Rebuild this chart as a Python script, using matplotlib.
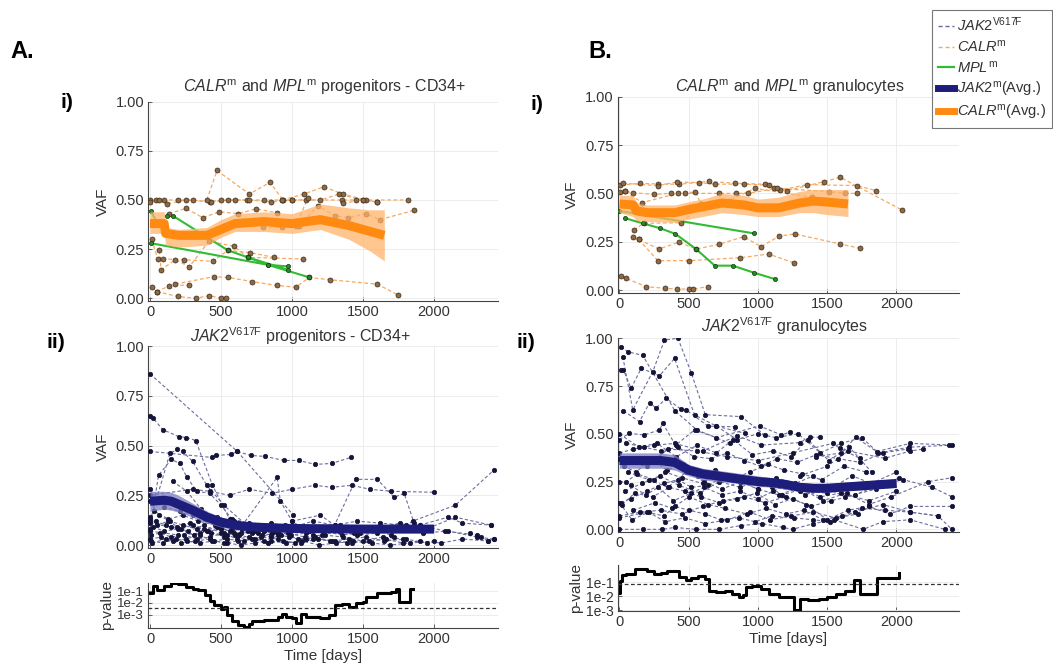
import numpy as np
import matplotlib
matplotlib.use("Agg")
import matplotlib.pyplot as plt
from matplotlib.lines import Line2D

plt.rcParams['font.family'] = ['Liberation Sans', 'DejaVu Sans']
plt.rcParams['mathtext.fontset'] = 'custom'
plt.rcParams['mathtext.rm'] = 'Liberation Sans'
plt.rcParams['mathtext.it'] = 'Liberation Sans:italic'

# ---- CALR / MPL, progenitors (A i): (days, vaf) per patient
calr_prog = [
    ([0, 40, 100, 200, 300, 420, 500, 600, 680, 800, 930, 1000, 1100, 1350, 1450, 1820],
     [0.50, 0.50, 0.50, 0.50, 0.50, 0.49, 0.50, 0.50, 0.50, 0.50, 0.50, 0.50, 0.50, 0.50, 0.50, 0.50]),
    ([0, 60, 120, 250, 430, 550, 700, 850, 1000, 1200, 1330, 1500, 1600],
     [0.49, 0.50, 0.48, 0.50, 0.49, 0.50, 0.50, 0.49, 0.50, 0.50, 0.53, 0.50, 0.49]),
    ([400, 472, 700, 846, 935], [0.50, 0.65, 0.53, 0.59, 0.50]),
    ([932, 1083, 1224, 1358, 1520], [0.50, 0.53, 0.567, 0.53, 0.50]),
    ([1050, 1182, 1300, 1396, 1523, 1617, 1859], [0.37, 0.47, 0.42, 0.41, 0.43, 0.40, 0.447]),
    ([132, 254, 371, 489, 623, 747, 893], [0.43, 0.457, 0.41, 0.44, 0.43, 0.455, 0.435]),
    ([12, 54, 94, 242, 442, 548, 707, 872], [0.30, 0.20, 0.20, 0.196, 0.188, 0.244, 0.232, 0.208]),
    ([66, 78, 179, 277, 414, 590, 689, 1076], [0.244, 0.145, 0.196, 0.16, 0.29, 0.265, 0.208, 0.20]),
    ([179, 449, 548, 719, 893, 1025, 1123, 1269, 1600, 1746],
     [0.072, 0.11, 0.106, 0.085, 0.065, 0.056, 0.106, 0.094, 0.072, 0.017]),
    ([12, 47, 136, 277], [0.055, 0.034, 0.063, 0.068]),
    ([47, 195, 324, 418, 500, 536], [0.034, 0.009, 0.0, 0.014, 0.0, 0.0]),
    ([794, 931, 1029, 1111], [0.36, 0.36, 0.37, 0.51]),
    ([1358, 1500, 1600], [0.483, 0.50, 0.49]),
]
mpl_prog = [
    ([7, 45], [0.444, 0.39]),
    ([118, 160, 548, 689, 971], [0.42, 0.42, 0.244, 0.208, 0.145]),
    ([7, 830, 971], [0.28, 0.17, 0.162]),
    ([689, 830, 1123], [0.208, 0.17, 0.106]),
]
calr_prog_avg_t = [0, 100, 110, 200, 400, 500, 600, 800, 1000, 1200, 1400, 1550, 1650]
calr_prog_avg = [0.38, 0.38, 0.33, 0.32, 0.32, 0.35, 0.38, 0.39, 0.38, 0.40, 0.37, 0.34, 0.32]
calr_prog_lo = [0.33, 0.33, 0.27, 0.26, 0.27, 0.31, 0.34, 0.34, 0.33, 0.35, 0.30, 0.24, 0.19]
calr_prog_hi = [0.44, 0.44, 0.36, 0.35, 0.36, 0.40, 0.43, 0.44, 0.43, 0.48, 0.46, 0.45, 0.45]

# ---- CALR / MPL, granulocytes (B i)
calr_gran = [
    ([7, 151, 279, 428, 644, 837, 1053, 1113, 1209, 1474, 1594, 2039],
     [0.543, 0.552, 0.548, 0.547, 0.562, 0.552, 0.547, 0.529, 0.514, 0.56, 0.583, 0.414]),
    ([24, 279, 416, 577, 692, 897, 1077, 1161, 1353, 1714, 1853],
     [0.552, 0.54, 0.559, 0.555, 0.548, 0.547, 0.543, 0.517, 0.545, 0.54, 0.514]),
    ([7, 43, 96, 248, 375, 471, 721, 841, 928, 1137, 1514, 1630, 1714],
     [0.509, 0.51, 0.503, 0.495, 0.50, 0.50, 0.50, 0.50, 0.50, 0.526, 0.509, 0.50, 0.50]),
    ([43, 163, 423, 548, 591, 789, 976, 1390], [0.51, 0.452, 0.50, 0.507, 0.443, 0.462, 0.526, 0.479]),
    ([103, 175, 447, 591], [0.31, 0.345, 0.348, 0.443]),
    ([99, 139, 284, 428, 555, 716, 897, 1022, 1154, 1265, 1594, 1738],
     [0.272, 0.262, 0.212, 0.247, 0.212, 0.236, 0.276, 0.224, 0.279, 0.29, 0.238, 0.216]),
    ([139, 276, 505, 873, 1077, 1257], [0.262, 0.152, 0.152, 0.167, 0.186, 0.141]),
    ([14, 48, 195, 327, 416, 500, 531, 639], [0.074, 0.06, 0.017, 0.009, 0.005, 0.005, 0.005, 0.017]),
]
mpl_gran = [
    ([0, 969], [0.409, 0.293]),
    ([43, 168, 296, 404, 553, 688, 817, 969, 1120],
     [0.371, 0.345, 0.319, 0.29, 0.212, 0.126, 0.126, 0.09, 0.057]),
]
calr_gran_avg_t = [0, 100, 120, 200, 400, 520, 600, 740, 900, 1000, 1150, 1300, 1400, 1500, 1650]
calr_gran_avg = [0.445, 0.44, 0.41, 0.40, 0.40, 0.42, 0.43, 0.45, 0.44, 0.425, 0.425, 0.45, 0.46, 0.455, 0.445]
calr_gran_lo = [0.40, 0.38, 0.36, 0.355, 0.35, 0.37, 0.38, 0.40, 0.39, 0.38, 0.38, 0.40, 0.40, 0.39, 0.38]
calr_gran_hi = [0.49, 0.49, 0.45, 0.44, 0.44, 0.46, 0.47, 0.50, 0.49, 0.47, 0.48, 0.51, 0.52, 0.52, 0.52]

# ---- JAK2 V617F, progenitors (A ii)
jak2_prog = [
    ([0, 615, 1010], [0.86, 0.47, 0.15]),
    ([0, 19, 89, 201, 257, 322, 440, 560], [0.65, 0.64, 0.58, 0.545, 0.54, 0.525, 0.30, 0.13]),
    ([0, 439, 467, 568, 615, 708, 813, 942, 1047, 1164, 1280, 1414],
     [0.47, 0.44, 0.45, 0.455, 0.47, 0.45, 0.445, 0.425, 0.425, 0.405, 0.41, 0.44]),
    ([0, 140, 190, 230, 300, 400, 520, 680, 900], [0.12, 0.46, 0.48, 0.47, 0.42, 0.30, 0.20, 0.10, 0.05]),
    ([0, 60, 150, 210, 260, 330, 420, 500, 610, 720, 850],
     [0.08, 0.35, 0.43, 0.41, 0.34, 0.27, 0.26, 0.20, 0.10, 0.06, 0.04]),
    ([0, 300, 420, 560, 700, 860, 1000, 1160, 1280, 1420, 1550, 1700, 2000],
     [0.25, 0.28, 0.27, 0.25, 0.28, 0.26, 0.28, 0.30, 0.29, 0.30, 0.28, 0.27, 0.265]),
    ([1000, 1200, 1300, 1450, 1600, 1720, 1790, 1860], [0.12, 0.15, 0.10, 0.33, 0.33, 0.24, 0.26, 0.11]),
    ([600, 895, 918, 1000, 1150], [0.05, 0.34, 0.22, 0.12, 0.05]),
    ([1700, 1850, 2150, 2420], [0.05, 0.12, 0.20, 0.375]),
    ([1900, 2100, 2200, 2400], [0.10, 0.14, 0.11, 0.10]),
    ([0, 40, 110, 190, 280, 380, 470, 560, 650, 760, 880, 990, 1100, 1220, 1350, 1480, 1600, 1720],
     [0.13, 0.12, 0.10, 0.09, 0.11, 0.08, 0.09, 0.07, 0.08, 0.06, 0.07, 0.05, 0.06, 0.07, 0.05, 0.06, 0.08, 0.04]),
    ([5, 70, 150, 240, 330, 420, 520, 610, 700, 800, 920, 1040, 1160, 1280, 1400, 1520, 1650, 1800, 1950],
     [0.05, 0.06, 0.04, 0.05, 0.03, 0.04, 0.06, 0.03, 0.04, 0.02, 0.05, 0.03, 0.04, 0.02, 0.03, 0.04, 0.02, 0.03, 0.01]),
    ([10, 90, 180, 260, 350, 450, 540, 640, 740, 850, 960, 1070, 1190, 1310, 1430, 1560, 1690, 1830, 2000],
     [0.02, 0.01, 0.03, 0.02, 0.01, 0.02, 0.01, 0.0, 0.01, 0.02, 0.01, 0.02, 0.0, 0.01, 0.02, 0.01, 0.0, 0.01, 0.02]),
    ([0, 50, 130, 220, 300, 400, 500, 590, 690, 790, 900],
     [0.14, 0.10, 0.12, 0.08, 0.10, 0.07, 0.09, 0.06, 0.07, 0.05, 0.06]),
    ([20, 100, 200, 310, 410, 520, 630, 740, 860, 980, 1100, 1230, 1360, 1500, 1640, 1780],
     [0.09, 0.07, 0.08, 0.05, 0.07, 0.04, 0.05, 0.03, 0.06, 0.04, 0.03, 0.05, 0.04, 0.02, 0.04, 0.03]),
    ([0, 80, 160, 250, 350, 440, 540, 660, 780, 900, 1020, 1150, 1270, 1390],
     [0.03, 0.04, 0.02, 0.03, 0.05, 0.02, 0.03, 0.02, 0.04, 0.03, 0.01, 0.03, 0.02, 0.01]),
    ([30, 130, 230, 340, 460, 580, 700, 820, 950, 1080, 1210, 1340, 1480, 1620, 1760, 1900],
     [0.17, 0.13, 0.15, 0.12, 0.10, 0.13, 0.11, 0.09, 0.10, 0.08, 0.09, 0.10, 0.07, 0.09, 0.11, 0.08]),
    ([0, 150, 270, 380, 500, 620, 730, 850, 970, 1090, 1210, 1330, 1460, 1600, 1750, 1900, 2080, 2300],
     [0.11, 0.09, 0.07, 0.10, 0.06, 0.05, 0.07, 0.05, 0.06, 0.04, 0.05, 0.07, 0.05, 0.06, 0.08, 0.10, 0.07, 0.05]),
    ([0, 60, 140, 230, 330, 430, 540], [0.22, 0.15, 0.12, 0.10, 0.08, 0.06, 0.05]),
    ([15, 110, 220, 320, 420, 520, 620, 720, 830, 940, 1060, 1180, 1300, 1420, 1540, 1660, 1780, 1900, 2050, 2200, 2380],
     [0.01, 0.03, 0.01, 0.02, 0.03, 0.01, 0.02, 0.03, 0.01, 0.02, 0.01, 0.03, 0.02, 0.01, 0.02, 0.03, 0.01, 0.02, 0.01, 0.03, 0.02]),
    ([0, 200, 350, 500, 640, 800, 960, 1120, 1280, 1440, 1600, 1760, 1920, 2100, 2300, 2420],
     [0.07, 0.05, 0.06, 0.08, 0.06, 0.07, 0.09, 0.07, 0.08, 0.06, 0.07, 0.09, 0.06, 0.07, 0.04, 0.03]),
    ([2250, 2330, 2380, 2420], [0.06, 0.04, 0.02, 0.03]),
    ([0, 100, 210, 300, 390, 480, 580], [0.28, 0.19, 0.17, 0.15, 0.13, 0.10, 0.08]),
    ([160, 260, 360, 470, 590, 720, 850, 1000, 1150, 1300, 1460, 1620, 1800, 1980, 2150, 2400],
     [0.32, 0.27, 0.18, 0.14, 0.12, 0.10, 0.11, 0.09, 0.12, 0.10, 0.12, 0.11, 0.10, 0.09, 0.14, 0.10]),
]
jak2_prog_avg_t = [0, 100, 150, 200, 300, 400, 500, 600, 700, 800, 1000, 1200, 1500, 1800, 2000]
jak2_prog_avg = [0.22, 0.225, 0.22, 0.205, 0.175, 0.14, 0.115, 0.10, 0.092, 0.088, 0.083, 0.082, 0.08, 0.08, 0.08]
jak2_prog_lo = [0.17, 0.18, 0.175, 0.165, 0.14, 0.11, 0.09, 0.08, 0.075, 0.072, 0.068, 0.067, 0.066, 0.066, 0.066]
jak2_prog_hi = [0.27, 0.27, 0.265, 0.25, 0.21, 0.17, 0.14, 0.12, 0.11, 0.105, 0.10, 0.098, 0.096, 0.096, 0.096]

# ---- JAK2 V617F, granulocytes (B ii)
jak2_gran = [
    ([12, 60, 169, 400, 560, 800], [0.956, 0.93, 0.91, 0.62, 0.52, 0.45]),
    ([24, 96, 241, 325, 422, 518, 620, 880, 1048], [0.904, 0.625, 0.826, 0.991, 1.0, 0.82, 0.60, 0.59, 0.494]),
    ([12, 29, 84, 157, 289, 398, 542, 700, 904], [0.834, 0.834, 0.738, 0.843, 0.804, 0.895, 0.599, 0.54, 0.503]),
    ([29, 145, 217, 265, 337, 446, 482, 640, 831], [0.62, 0.564, 0.663, 0.634, 0.686, 0.628, 0.625, 0.54, 0.537]),
    ([0, 72, 176, 289, 313, 405, 542, 700, 1012, 1169, 1229],
     [0.47, 0.503, 0.494, 0.52, 0.555, 0.44, 0.52, 0.48, 0.541, 0.494, 0.508]),
    ([0, 100, 250, 400, 600, 850, 1024, 1301, 1374, 1446],
     [0.40, 0.42, 0.44, 0.45, 0.41, 0.49, 0.441, 0.454, 0.482, 0.482]),
    ([0, 60, 200, 350, 560, 780, 1000, 1250, 1542, 1590, 1735],
     [0.37, 0.35, 0.33, 0.42, 0.41, 0.38, 0.36, 0.40, 0.45, 0.424, 0.372]),
    ([1420, 1600, 1706, 1856, 2100, 2398], [0.38, 0.40, 0.482, 0.407, 0.45, 0.441]),
    ([1300, 1500, 1650, 1916, 2100, 2193], [0.28, 0.33, 0.41, 0.372, 0.41, 0.42]),
    ([0, 50, 130, 250, 330, 450, 600, 700, 900, 1100, 1300, 1500],
     [0.25, 0.25, 0.29, 0.26, 0.30, 0.27, 0.24, 0.30, 0.27, 0.22, 0.20, 0.19]),
    ([10, 80, 200, 320, 420, 520, 640, 760, 880, 1000, 1150, 1300, 1450, 1600, 1800, 2000],
     [0.14, 0.16, 0.20, 0.24, 0.26, 0.22, 0.23, 0.28, 0.25, 0.21, 0.18, 0.22, 0.17, 0.19, 0.15, 0.20]),
    ([20, 110, 240, 360, 470, 590, 720, 850, 990, 1120, 1250, 1380, 1530, 1700, 1860, 2050, 2260, 2400],
     [0.13, 0.19, 0.17, 0.22, 0.20, 0.17, 0.14, 0.16, 0.19, 0.13, 0.16, 0.12, 0.15, 0.18, 0.23, 0.26, 0.22, 0.17]),
    ([0, 150, 300, 450, 600, 750, 900, 1050, 1200, 1350, 1500, 1650, 1800, 1950, 2100, 2400],
     [0.07, 0.09, 0.10, 0.08, 0.12, 0.15, 0.17, 0.14, 0.17, 0.13, 0.05, 0.10, 0.12, 0.08, 0.12, 0.12]),
    ([0, 200, 320, 400, 500, 620, 730, 860, 980, 1100, 1260, 1400, 1520, 1700, 1900, 2100, 2300],
     [0.06, 0.09, 0.07, 0.12, 0.10, 0.08, 0.05, 0.06, 0.04, 0.07, 0.06, 0.05, 0.04, 0.09, 0.13, 0.09, 0.07]),
    ([0, 170, 310, 400, 550, 720, 880, 1030, 1180, 1250, 1400, 1550, 1760, 1900, 2100, 2350],
     [0.0, 0.0, 0.0, 0.01, 0.0, 0.0, 0.02, 0.03, 0.01, 0.0, 0.03, 0.05, 0.0, 0.04, 0.05, 0.0]),
    ([30, 120, 230, 340, 460, 570, 690, 810, 940, 1070, 1190, 1320, 1460, 1620, 1780],
     [0.33, 0.30, 0.37, 0.31, 0.34, 0.28, 0.31, 0.26, 0.30, 0.34, 0.31, 0.29, 0.26, 0.33, 0.30]),
    ([50, 180, 300, 420, 540, 660, 780, 900, 1020, 1140, 1280, 1420, 1580, 1740, 1900, 2080],
     [0.45, 0.43, 0.41, 0.43, 0.38, 0.37, 0.40, 0.36, 0.33, 0.37, 0.35, 0.39, 0.37, 0.35, 0.40, 0.42]),
    ([80, 190, 280, 390, 520, 610, 740, 870, 1000, 1110, 1230, 1340, 1480, 1630, 1850, 2020],
     [0.23, 0.18, 0.22, 0.15, 0.19, 0.22, 0.18, 0.20, 0.16, 0.20, 0.24, 0.18, 0.22, 0.17, 0.21, 0.27]),
    ([100, 260, 380, 500, 640, 760, 920, 1060, 1200, 1330, 1470, 1610, 1750, 1920, 2100, 2300, 2400],
     [0.10, 0.14, 0.11, 0.17, 0.13, 0.11, 0.08, 0.11, 0.08, 0.10, 0.05, 0.07, 0.11, 0.10, 0.09, 0.07, 0.0]),
    ([60, 210, 350, 480, 610, 740, 870, 1000, 1130, 1270, 1400, 1540, 1680, 1820, 2000],
     [0.30, 0.26, 0.22, 0.30, 0.25, 0.21, 0.25, 0.21, 0.27, 0.24, 0.28, 0.22, 0.28, 0.24, 0.30]),
    ([0, 140, 270, 410, 560, 700, 820, 960, 1110, 1240, 1360, 1510, 1660, 1820],
     [0.50, 0.43, 0.45, 0.38, 0.44, 0.40, 0.47, 0.39, 0.41, 0.38, 0.47, 0.36, 0.43, 0.30]),
    ([40, 160, 290, 430, 580, 720, 870, 1020, 1170, 1320, 1470, 1640, 1800, 1960, 2230, 2400],
     [0.20, 0.24, 0.28, 0.23, 0.19, 0.25, 0.22, 0.26, 0.18, 0.21, 0.15, 0.19, 0.13, 0.17, 0.25, 0.27]),
    ([0, 90, 210, 330, 470, 620, 780, 940, 1090, 1240, 1400, 1560, 1720],
     [0.14, 0.05, 0.09, 0.04, 0.06, 0.03, 0.05, 0.09, 0.05, 0.07, 0.09, 0.06, 0.08]),
    ([700, 850, 1000, 1130, 1290, 1450, 1600, 1750, 1870, 2090, 2380],
     [0.54, 0.47, 0.50, 0.48, 0.50, 0.40, 0.45, 0.48, 0.40, 0.43, 0.44]),
]
jak2_gran_avg_t = [0, 100, 200, 300, 400, 500, 600, 700, 800, 900, 1000, 1100, 1200, 1300, 1400, 1500,
                   1600, 1700, 1800, 1900, 2000]
jak2_gran_avg = [0.36, 0.36, 0.36, 0.36, 0.35, 0.31, 0.29, 0.28, 0.27, 0.26, 0.25, 0.245, 0.235, 0.22,
                 0.215, 0.215, 0.22, 0.225, 0.23, 0.235, 0.24]
jak2_gran_lo = [0.32, 0.32, 0.32, 0.32, 0.31, 0.28, 0.26, 0.25, 0.245, 0.235, 0.225, 0.22, 0.21, 0.2,
                0.195, 0.195, 0.2, 0.205, 0.21, 0.215, 0.22]
jak2_gran_hi = [0.40, 0.40, 0.40, 0.40, 0.39, 0.34, 0.32, 0.31, 0.30, 0.29, 0.28, 0.27, 0.26, 0.245,
                0.24, 0.24, 0.245, 0.25, 0.255, 0.26, 0.265]

# ---- p-values (step curves, log10)
pval_prog_t = [0, 20, 50, 100, 150, 200, 250, 300, 340, 390, 420, 450, 500, 520, 540, 580, 620, 660, 700,
               720, 800, 900, 930, 960, 1000, 1030, 1060, 1100, 1200, 1260, 1300, 1350, 1400, 1450, 1500,
               1520, 1600, 1700, 1730, 1750, 1820, 1830, 1850]
pval_prog_log = [-1.15, -0.6, -0.9, -0.54, -0.35, -0.4, -0.65, -0.8, -0.95, -1.3, -1.8, -2.2, -2.5, -2.3,
                 -3.0, -3.5, -3.85, -4.05, -3.8, -3.55, -3.45, -3.2, -2.95, -3.2, -3.3, -3.7, -2.95, -3.2,
                 -3.25, -3.0, -2.2, -2.1, -2.3, -2.0, -1.9, -1.5, -1.2, -1.05, -0.85, -1.9, -1.9, -0.8, -0.8]
pval_prog_thr = 0.0035

pval_gran_t = [0, 5, 20, 50, 110, 140, 200, 250, 300, 340, 430, 480, 520, 570, 620, 645, 700, 760, 810,
               860, 890, 910, 960, 1020, 1077, 1150, 1257, 1300, 1360, 1440, 1500, 1560, 1630, 1690, 1740,
               1860, 1990, 2015]
pval_gran_log = [-1.8, -0.9, -0.52, -0.4, -0.1, -0.05, -0.25, -0.4, -0.35, -0.2, -0.64, -0.88, -0.7,
                 -0.6, -0.75, -1.6, -1.7, -1.6, -1.83, -2.07, -1.95, -1.36, -1.3, -1.5, -1.83, -2.07, -3.0,
                 -2.2, -2.25, -2.2, -2.07, -1.83, -1.6, -0.83, -1.83, -0.69, -0.69, -0.36]
pval_gran_thr = 0.075

xticks = [0, 500, 1000, 1500, 2000]
vaf_ticks = [0.0, 0.25, 0.5, 0.75, 1.0]

W, H = 1053, 671
JAK2_LINE = '#6d6d9c'
JAK2_DOT = '#14143a'
CALR_LINE = '#f7a85e'
CALR_DOT = '#8b6a45'
MPL_LINE = '#33bb33'
NAVY = '#1d1d7c'
NAVY_BAND = '#7b7bc0'
ORANGE = '#ff8a12'
ORANGE_BAND = '#ffb36a'
TXT = '#333333'


def box(l, t, r, b):
    return [l / W, 1 - b / H, (r - l) / W, (b - t) / H]


def style(ax, ylim, yt, ylabels, lsize=10.5):
    ax.set_xlim(-12, 2450)
    ax.set_ylim(*ylim)
    ax.set_xticks(xticks)
    ax.set_yticks(yt)
    ax.set_yticklabels(ylabels)
    for s in ['top', 'right']:
        ax.spines[s].set_visible(False)
    for s in ['left', 'bottom']:
        ax.spines[s].set_color('#444444')
        ax.spines[s].set_linewidth(0.8)
    ax.tick_params(direction='in', length=3, width=0.6, colors='#444444', labelcolor=TXT,
                   labelsize=10.5, pad=3)
    ax.tick_params(axis='y', labelsize=lsize)
    ax.grid(True, color='#ececec', linewidth=0.7)
    ax.set_axisbelow(True)


def trajectories(ax, data, lc, dc, ls, lw, ms, mec):
    for d, v in data:
        ax.plot(d, v, color=lc, linestyle=ls, linewidth=lw, zorder=2)
        ax.plot(d, v, 'o', color=dc, markersize=ms, markeredgecolor=mec, markeredgewidth=0.5, zorder=3)


def average(ax, t, m, lo, hi, c, bc):
    ax.fill_between(t, lo, hi, color=bc, alpha=0.75, linewidth=0, zorder=4)
    ax.plot(t, m, color=c, linewidth=6.5, solid_capstyle='butt', zorder=5)


fig = plt.figure(figsize=(W / 100, H / 100), dpi=100)
dash = (0, (3, 2))
vaf_lab = ['0.00', '0.25', '0.50', '0.75', '1.00']
p_lab = ['1e-1', '1e-2', '1e-3']

# A i
ax = fig.add_axes(box(148.3, 101.7, 497.9, 301.2))
style(ax, (-0.015, 1.0), vaf_ticks, vaf_lab)
trajectories(ax, calr_prog, CALR_LINE, CALR_DOT, dash, 0.9, 3.6, '#3b2a18')
trajectories(ax, mpl_prog, MPL_LINE, '#2a8a2a', '-', 1.5, 3.0, '#103a10')
average(ax, calr_prog_avg_t, calr_prog_avg, calr_prog_lo, calr_prog_hi, ORANGE, ORANGE_BAND)
ax.set_ylabel('VAF', fontsize=11, color=TXT, labelpad=4)

# A ii
ax = fig.add_axes(box(148.3, 346, 497.9, 548))
style(ax, (-0.015, 1.0), vaf_ticks, vaf_lab)
trajectories(ax, jak2_prog, JAK2_LINE, JAK2_DOT, dash, 0.8, 3.2, JAK2_DOT)
average(ax, jak2_prog_avg_t, jak2_prog_avg, jak2_prog_lo, jak2_prog_hi, NAVY, NAVY_BAND)
ax.set_ylabel('VAF', fontsize=11, color=TXT, labelpad=4)

# A p-value
ax = fig.add_axes(box(148.3, 583, 497.9, 628))
ax.set_yscale('log')
style(ax, (8e-5, 0.47), [1e-1, 1e-2, 1e-3], p_lab, lsize=9.5)
ax.minorticks_off()
ax.plot(pval_prog_t, 10.0 ** np.array(pval_prog_log), drawstyle='steps-post', color='black', linewidth=2.2)
ax.axhline(pval_prog_thr, color='#333333', linestyle=(0, (3, 2)), linewidth=0.9)
ax.set_ylabel('p-value', fontsize=11, color=TXT, labelpad=2)
ax.set_xlabel('Time [days]', fontsize=11, color=TXT, labelpad=2)

# B i
ax = fig.add_axes(box(617.8, 96.7, 958.8, 292.9))
style(ax, (-0.015, 1.0), vaf_ticks, vaf_lab)
trajectories(ax, calr_gran, CALR_LINE, CALR_DOT, dash, 0.9, 3.6, '#3b2a18')
trajectories(ax, mpl_gran, MPL_LINE, '#2a8a2a', '-', 1.5, 3.0, '#103a10')
average(ax, calr_gran_avg_t, calr_gran_avg, calr_gran_lo, calr_gran_hi, ORANGE, ORANGE_BAND)
ax.set_ylabel('VAF', fontsize=11, color=TXT, labelpad=4)

# B ii
ax = fig.add_axes(box(617.8, 338.3, 958.8, 532.2))
style(ax, (-0.015, 1.0), vaf_ticks, vaf_lab)
trajectories(ax, jak2_gran, JAK2_LINE, JAK2_DOT, dash, 0.8, 3.2, JAK2_DOT)
average(ax, jak2_gran_avg_t, jak2_gran_avg, jak2_gran_lo, jak2_gran_hi, NAVY, NAVY_BAND)
ax.set_ylabel('VAF', fontsize=11, color=TXT, labelpad=4)

# B p-value
ax = fig.add_axes(box(617.8, 565, 958.8, 611))
ax.set_yscale('log')
style(ax, (9e-4, 1.6), [1e-1, 1e-2, 1e-3], p_lab, lsize=10)
ax.minorticks_off()
ax.plot(pval_gran_t, 10.0 ** np.array(pval_gran_log), drawstyle='steps-post', color='black', linewidth=2.2)
ax.axhline(pval_gran_thr, color='#333333', linestyle=(0, (3, 2)), linewidth=0.9)
ax.set_ylabel('p-value', fontsize=11, color=TXT, labelpad=2)
ax.set_xlabel('Time [days]', fontsize=11, color=TXT, labelpad=2)


def ftext(x, y, s, **kw):
    fig.text(x / W, 1 - y / H, s, **kw)


ftext(10, 52, 'A.', fontsize=17, fontweight='bold', va='center')
ftext(588, 52, 'B.', fontsize=17, fontweight='bold', va='center')
ftext(60, 102, 'i)', fontsize=15, fontweight='bold', va='center')
ftext(47, 343, 'ii)', fontsize=15, fontweight='bold', va='center')
ftext(530, 104, 'i)', fontsize=15, fontweight='bold', va='center')
ftext(516, 343, 'ii)', fontsize=15, fontweight='bold', va='center')

tkw = dict(fontsize=11.5, color=TXT, ha='center', va='center')
ftext(325, 87, r'$\mathit{CALR}^{\mathrm{m}}$ and $\mathit{MPL}^{\mathrm{m}}$ progenitors - CD34+', **tkw)
ftext(790, 87, r'$\mathit{CALR}^{\mathrm{m}}$ and $\mathit{MPL}^{\mathrm{m}}$ granulocytes', **tkw)
ftext(300, 336, r'$\mathit{JAK2}^{\mathrm{V617F}}$ progenitors - CD34+', **tkw)
ftext(785, 326, r'$\mathit{JAK2}^{\mathrm{V617F}}$ granulocytes', **tkw)

handles = [
    Line2D([], [], color=JAK2_LINE, linestyle=dash, linewidth=1.0),
    Line2D([], [], color=CALR_LINE, linestyle=dash, linewidth=1.0),
    Line2D([], [], color=MPL_LINE, linewidth=1.6),
    Line2D([], [], color=NAVY, linewidth=5),
    Line2D([], [], color=ORANGE, linewidth=5),
]
labels = [r'$\mathit{JAK2}^{\mathrm{V617F}}$', r'$\mathit{CALR}^{\mathrm{m}}$', r'$\mathit{MPL}^{\mathrm{m}}$',
          r'$\mathit{JAK2}^{\mathrm{m}}$(Avg.)', r'$\mathit{CALR}^{\mathrm{m}}$(Avg.)']
leg = fig.legend(handles, labels, loc='upper right', bbox_to_anchor=(0.999, 0.985), fontsize=10.5,
                 frameon=True, fancybox=False, edgecolor='#555555', handlelength=1.1, handletextpad=0.2,
                 borderpad=0.4, labelspacing=0.3, borderaxespad=0)
leg.get_frame().set_linewidth(0.8)
for t in leg.get_texts():
    t.set_color(TXT)

fig.savefig('out.png', dpi=100)
